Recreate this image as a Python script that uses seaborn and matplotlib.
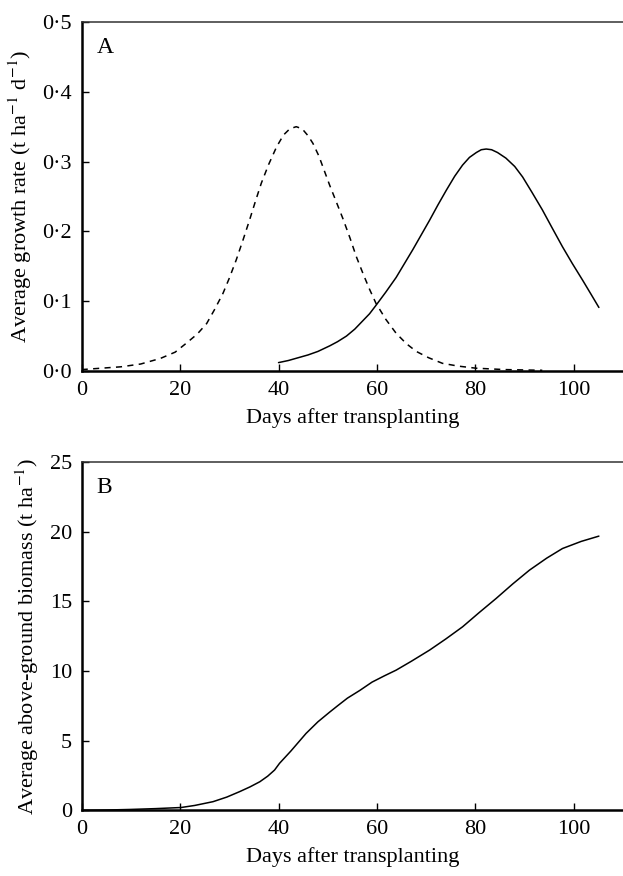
import matplotlib
matplotlib.use("Agg")
import matplotlib.pyplot as plt
import pandas as pd
import seaborn as sns

# values
early_days = [0, 4, 8, 12, 16, 19, 21.3, 23.5, 25.4, 27, 28.7, 30, 31.4, 32.8, 34.1,
              35.3, 36.5, 38, 39.6, 41, 42.3, 43.6, 44.8, 46, 47, 48.2, 49.3, 50.4,
              51.7, 53.1, 54.5, 55.8, 57.2, 58.5, 59.8, 61.8, 63.9, 66, 68, 70.5,
              73.3, 76.5, 80.1, 86, 93.6]
early_rate = [0.002, 0.004, 0.006, 0.010, 0.018, 0.027, 0.040, 0.053, 0.068, 0.088,
              0.111, 0.133, 0.159, 0.188, 0.216, 0.243, 0.269, 0.296, 0.321, 0.338,
              0.347, 0.350, 0.347, 0.337, 0.326, 0.308, 0.287, 0.266, 0.243, 0.218,
              0.191, 0.164, 0.139, 0.117, 0.097, 0.074, 0.054, 0.039, 0.028, 0.019,
              0.011, 0.007, 0.004, 0.002, 0.001]

late_days = [40, 42, 44, 46, 48, 50.4, 52, 53.8, 55.5, 57, 58.5, 59.8, 61.8, 63.9,
             65.6, 67.3, 69, 70.7, 72.4, 74.1, 75.8, 77.4, 78.8, 80.2, 81.2, 82.2,
             83.3, 84.5, 86.2, 88, 89.6, 91.5, 93.6, 95.6, 97.7, 99.7, 101.8, 103.5,
             105.1]
late_rate = [0.012, 0.015, 0.019, 0.023, 0.028, 0.036, 0.042, 0.050, 0.060, 0.071,
             0.082, 0.094, 0.113, 0.134, 0.154, 0.174, 0.195, 0.216, 0.238, 0.259,
             0.279, 0.295, 0.306, 0.313, 0.317, 0.318, 0.317, 0.313, 0.305, 0.293,
             0.278, 0.256, 0.231, 0.205, 0.178, 0.154, 0.130, 0.110, 0.091]

bio_days = [0, 5, 9.8, 15, 20.2, 23, 26.7, 29.5, 32.1, 34.2, 36.2, 37.8, 39.2, 40.2,
            42.5, 45.6, 48, 50.4, 52, 54, 56.5, 59, 61.5, 63.9, 67, 70.7, 74, 77.4,
            80.8, 84.2, 87.6, 91.0, 94.5, 97.7, 101.5, 105.1]
biomass = [0.0, 0.02, 0.06, 0.12, 0.2, 0.35, 0.62, 0.95, 1.34, 1.68, 2.05, 2.45, 2.89,
           3.37, 4.25, 5.52, 6.35, 7.05, 7.5, 8.05, 8.6, 9.2, 9.65, 10.06, 10.7, 11.5,
           12.3, 13.17, 14.2, 15.2, 16.25, 17.24, 18.1, 18.79, 19.3, 19.68]

rate_ticks = [0.0, 0.1, 0.2, 0.3, 0.4, 0.5]
rate_labels = ["0·0", "0·1", "0·2", "0·3", "0·4", "0·5"]
bio_ticks = [0, 5, 10, 15, 20, 25]
day_ticks = [0, 20, 40, 60, 80, 100]

sns.set_theme(style="ticks")
plt.rcParams["font.family"] = ["Liberation Serif", "DejaVu Serif"]
plt.rcParams["mathtext.fontset"] = "stix"
plt.rcParams["xtick.direction"] = "in"
plt.rcParams["ytick.direction"] = "in"
plt.rcParams["text.color"] = "black"
plt.rcParams["axes.labelcolor"] = "black"
plt.rcParams["xtick.labelcolor"] = "black"
plt.rcParams["ytick.labelcolor"] = "black"

fs = 16
fig = plt.figure(figsize=(6.23, 8.76), dpi=100)
ax_a = fig.add_axes([0.1311, 0.5765, 0.8689, 0.3984])
ax_b = fig.add_axes([0.1311, 0.0750, 0.8689, 0.3976])

early = pd.DataFrame({"day": early_days, "rate": early_rate})
late = pd.DataFrame({"day": late_days, "rate": late_rate})
bio = pd.DataFrame({"day": bio_days, "biomass": biomass})

sns.lineplot(data=early, x="day", y="rate", ax=ax_a, color="black",
             linewidth=1.1, linestyle=(0, (4, 3.5)))
sns.lineplot(data=late, x="day", y="rate", ax=ax_a, color="black", linewidth=1.1)
sns.lineplot(data=bio, x="day", y="biomass", ax=ax_b, color="black", linewidth=1.1)

for ax in (ax_a, ax_b):
    ax.set_xlim(0, 110)
    ax.set_xticks(day_ticks)
    ax.set_xlabel("Days after transplanting", fontsize=fs, labelpad=6)
    ax.spines["right"].set_visible(False)
    ax.spines["left"].set_linewidth(1.8)
    ax.spines["bottom"].set_linewidth(1.8)
    ax.spines["left"].set_color("black")
    ax.spines["bottom"].set_color("black")
    ax.spines["top"].set_linewidth(1.1)
    ax.spines["top"].set_color("#333333")
    ax.tick_params(axis="both", which="major", length=5, width=1.0,
                   labelsize=fs, pad=7, color="black")

ax_a.set_ylim(0, 0.5)
ax_a.set_yticks(rate_ticks)
ax_a.set_yticklabels(rate_labels)
ax_a.set_ylabel("Average growth rate (t ha$^{-1}$ d$^{-1}$)", fontsize=fs, labelpad=6)
ax_a.text(0.028, 0.957, "A", transform=ax_a.transAxes, fontsize=fs + 1, va="top")

ax_b.set_ylim(0, 25)
ax_b.set_yticks(bio_ticks)
ax_b.set_ylabel("Average above-ground biomass (t ha$^{-1}$)", fontsize=fs, labelpad=6)
ax_b.text(0.028, 0.957, "B", transform=ax_b.transAxes, fontsize=fs + 1, va="top")

fig.savefig("out.png", dpi=100)
